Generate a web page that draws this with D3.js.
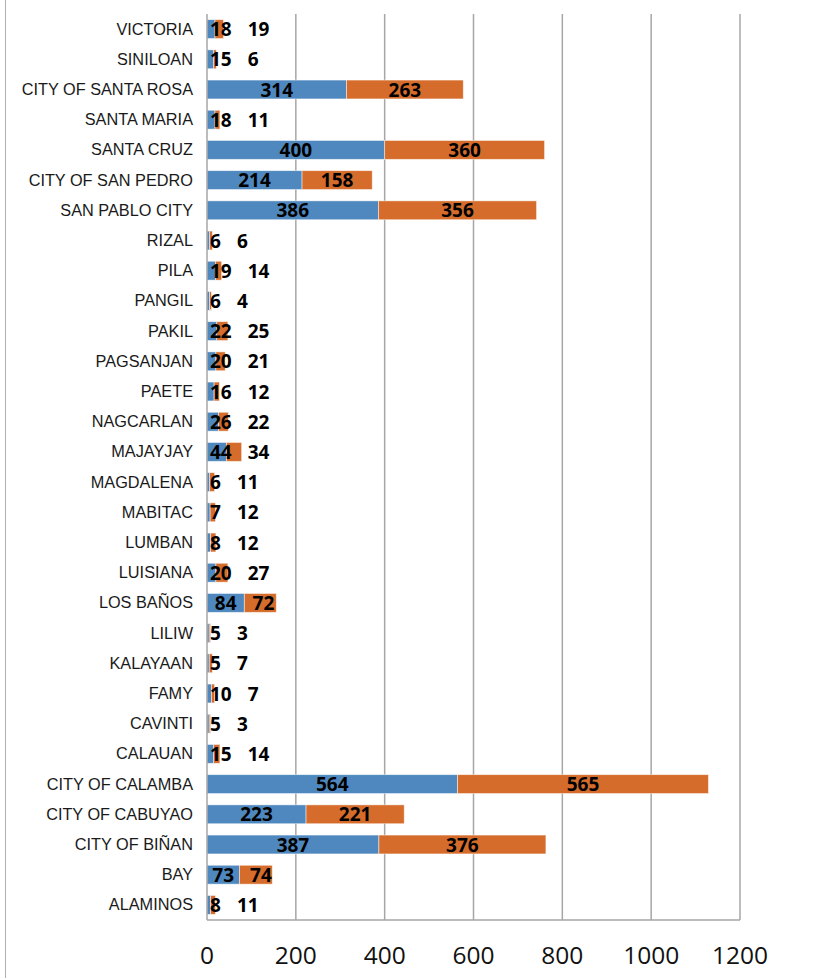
<!DOCTYPE html>
<html>
<head>
<meta charset="utf-8">
<script src="https://cdn.jsdelivr.net/npm/d3@7"></script>
<style>
  body { margin: 0; background: #fff; }
</style>
</head>
<body>
<div class="canvas"></div>
<script>
const categories = [
  'VICTORIA', 'SINILOAN', 'CITY OF SANTA ROSA', 'SANTA MARIA', 'SANTA CRUZ',
  'CITY OF SAN PEDRO', 'SAN PABLO CITY', 'RIZAL', 'PILA', 'PANGIL', 'PAKIL',
  'PAGSANJAN', 'PAETE', 'NAGCARLAN', 'MAJAYJAY', 'MAGDALENA', 'MABITAC',
  'LUMBAN', 'LUISIANA', 'LOS BAÑOS', 'LILIW', 'KALAYAAN', 'FAMY', 'CAVINTI',
  'CALAUAN', 'CITY OF CALAMBA', 'CITY OF CABUYAO', 'CITY OF BIÑAN', 'BAY',
  'ALAMINOS'
];
const blueValues = [
  18, 15, 314, 18, 400, 214, 386, 6, 19, 6, 22, 20, 16, 26, 44, 6, 7, 8, 20,
  84, 5, 5, 10, 5, 15, 564, 223, 387, 73, 8
];
const orangeValues = [
  19, 6, 263, 11, 360, 158, 356, 6, 14, 4, 25, 21, 12, 22, 34, 11, 12, 12, 27,
  72, 3, 7, 7, 3, 14, 565, 221, 376, 74, 11
];
const xTicks = [0, 200, 400, 600, 800, 1000, 1200];

const dims = { width: 824, height: 978 };
const plot = { left: 207, right: 740, top: 14, bottom: 920 };
const colors = { blue: '#4f88be', orange: '#d56c2b', grid: '#a6a6a6' };

const svg = d3
  .select('.canvas')
  .append('svg')
  .attr('width', dims.width)
  .attr('height', dims.height);

// chart border (only left edge visible)
svg
  .append('line')
  .attr('x1', 5.5)
  .attr('x2', 5.5)
  .attr('y1', 0)
  .attr('y2', dims.height)
  .attr('stroke', '#b0b0b0')
  .attr('stroke-width', 1);

const x = d3.scaleLinear().domain([0, 1200]).range([plot.left, plot.right]);

const y = d3
  .scaleBand()
  .domain(categories)
  .range([plot.top, plot.bottom])
  .paddingInner(0.375)
  .paddingOuter(0.1875);

// gridlines
svg
  .append('g')
  .selectAll('line')
  .data(xTicks.slice(1))
  .enter()
  .append('line')
  .attr('x1', (d) => x(d))
  .attr('x2', (d) => x(d))
  .attr('y1', plot.top)
  .attr('y2', plot.bottom)
  .attr('stroke', colors.grid)
  .attr('stroke-width', 1.5);

// bottom axis line
svg
  .append('line')
  .attr('x1', plot.left)
  .attr('x2', plot.right)
  .attr('y1', plot.bottom)
  .attr('y2', plot.bottom)
  .attr('stroke', colors.grid)
  .attr('stroke-width', 1.5);

// tick labels
svg
  .append('g')
  .selectAll('text')
  .data(xTicks)
  .enter()
  .append('text')
  .attr('x', (d) => x(d))
  .attr('y', 964)
  .attr('text-anchor', 'middle')
  .attr('font-family', 'Open Sans, sans-serif')
  .attr('font-size', 24.5)
  .attr('fill', '#111')
  .text((d) => d);

const rows = categories.map((name, i) => ({
  name,
  blue: blueValues[i],
  orange: orangeValues[i]
}));

const bars = svg.append('g');

bars
  .selectAll('.blue')
  .data(rows)
  .enter()
  .append('rect')
  .attr('class', 'blue')
  .attr('x', x(0))
  .attr('y', (d) => y(d.name))
  .attr('width', (d) => x(d.blue) - x(0))
  .attr('height', y.bandwidth())
  .attr('fill', colors.blue)
  .attr('stroke', '#fff')
  .attr('stroke-opacity', 0.6)
  .attr('stroke-width', 0.8);

bars
  .selectAll('.orange')
  .data(rows)
  .enter()
  .append('rect')
  .attr('class', 'orange')
  .attr('x', (d) => x(d.blue))
  .attr('y', (d) => y(d.name))
  .attr('width', (d) => x(d.blue + d.orange) - x(d.blue))
  .attr('height', y.bandwidth())
  .attr('fill', colors.orange)
  .attr('stroke', '#fff')
  .attr('stroke-opacity', 0.6)
  .attr('stroke-width', 0.8);

// left axis line
svg
  .append('line')
  .attr('x1', plot.left)
  .attr('x2', plot.left)
  .attr('y1', plot.top)
  .attr('y2', plot.bottom)
  .attr('stroke', colors.grid)
  .attr('stroke-width', 1.5);

// category labels
svg
  .append('g')
  .selectAll('text')
  .data(categories)
  .enter()
  .append('text')
  .attr('x', 193)
  .attr('y', (d) => y(d) + y.bandwidth() / 2 + 5.5)
  .attr('text-anchor', 'end')
  .attr('font-family', "'Liberation Sans', Arial, sans-serif")
  .attr('font-size', 16.3)
  .attr('fill', '#1a1a1a')
  .text((d) => d);

// data labels, nudged apart when the segments are too narrow
const labels = svg.append('g');

rows.forEach((d) => {
  const cy = y(d.name) + y.bandwidth() / 2 + 7;

  const blueText = labels
    .append('text')
    .attr('y', cy)
    .attr('font-family', 'Open Sans, sans-serif')
    .attr('font-weight', 'bold')
    .attr('font-size', 19)
    .attr('fill', '#000')
    .text(d.blue);
  const bw = blueText.node().getComputedTextLength();
  const blueLeft = Math.max((x(0) + x(d.blue)) / 2 - bw / 2, x(0) + 3);
  blueText.attr('x', blueLeft);

  const orangeText = labels
    .append('text')
    .attr('y', cy)
    .attr('font-family', 'Open Sans, sans-serif')
    .attr('font-weight', 'bold')
    .attr('font-size', 19)
    .attr('fill', '#000')
    .text(d.orange);
  const ow = orangeText.node().getComputedTextLength();
  const orangeLeft = Math.max(
    (x(d.blue) + x(d.blue + d.orange)) / 2 - ow / 2,
    blueLeft + bw + 16
  );
  orangeText.attr('x', orangeLeft);
});
</script>
</body>
</html>
